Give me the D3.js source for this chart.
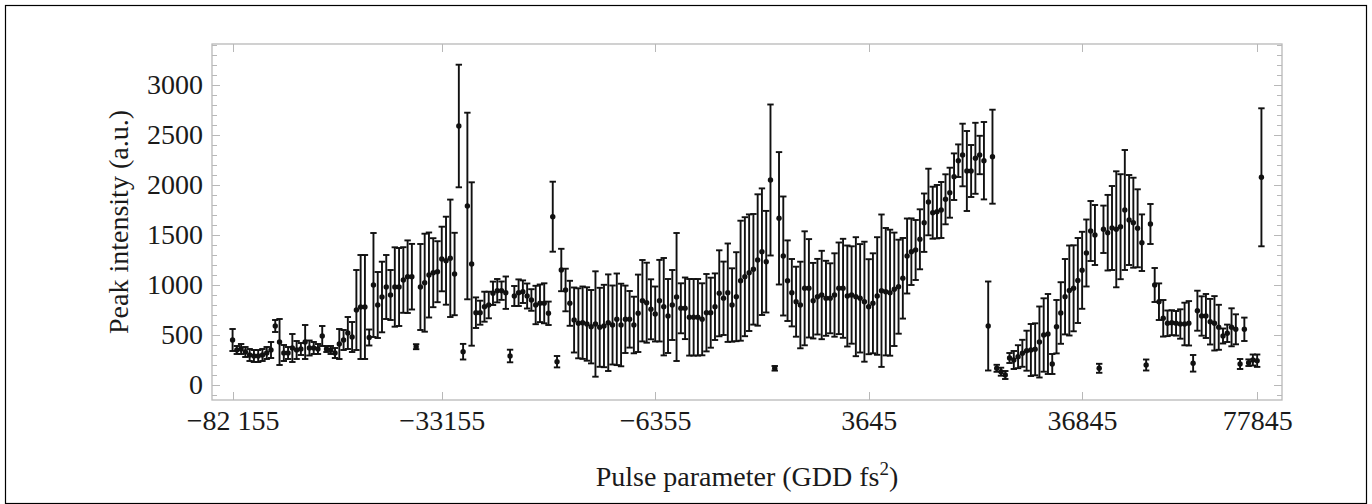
<!DOCTYPE html>
<html>
<head>
<meta charset="utf-8">
<script src="https://cdn.jsdelivr.net/npm/d3@7"></script>
<style>
  html, body { margin: 0; padding: 0; background: #fff; }
  svg { display: block; }
  text { font-family: "Liberation Serif", "Times New Roman", serif; fill: #1a1a1a; }
</style>
</head>
<body>
<svg id="chart" width="1372" height="504"></svg>
<script>
// Peak intensity per measurement (a.u.), in scan order
const intensity = [
  450, 350, 360, 330, 300, 290, 290, 300, 320, 350,
  590, 430, 320, 320, 370, 350, 360, 430, 370, 370,
  360, 490, 360, 350, 320, 410, 450, 520, 480, 750,
  780, 780, 475, 1000, 800, 880, 980, 900, 980, 980,
  1050, 1083, 1083, 383, 980, 1023, 1100, 1123, 1133, 1260,
  1243, 1267, 1110, 2590, 333, 1790, 1210, 723, 723, 783,
  800, 917, 943, 943, 923, 290, 890, 923, 933, 890,
  850, 800, 817, 817, 717, 1683, 233, 1150, 950, 817,
  650, 617, 623, 610, 583, 610, 577, 590, 623, 600,
  657, 600, 657, 657, 600, 717, 843, 823, 757, 710,
  843, 783, 690, 800, 880, 767, 767, 677, 677, 677,
  657, 723, 723, 783, 917, 867, 923, 800, 883, 1043,
  1083, 1123, 1157, 1250, 1333, 1233, 2050, 167, 1667, 1290,
  1043, 923, 833, 800, 967, 967, 843, 883, 900, 867,
  867, 900, 967, 967, 890, 900, 883, 867, 833, 783,
  817, 890, 943, 933, 923, 957, 983, 1067, 1290, 1333,
  1350, 1457, 1623, 1830, 1723, 1733, 1750, 1857, 1923, 2083,
  2243, 2300, 2140, 2140, 2267, 2300, 2243, 590, 2283, 167,
  133, 100, 270, 250, 283, 317, 343, 350, 357, 430,
  500, 510, 210, 583, 720, 883, 945, 967, 1045, 1147,
  1320, 1540, 1500, 167, 1557, 1523, 1570, 1557, 1583, 1750,
  1650, 1623, 1567, 1423, 200, 1610, 1000, 833, 667, 617,
  623, 617, 610, 610, 617, 217, 743, 690, 690, 633,
  617, 577, 490, 517, 577, 557, 210, 557, 223, 250,
  243, 2077
];

// Half-width of each error bar (a.u.)
const errorHalf = [
  110, 40, 50, 50, 60, 60, 60, 60, 60, 80,
  60, 230, 80, 60, 140, 90, 60, 170, 75, 60,
  50, 100, 30, 40, 50, 150, 100, 160, 150, 400,
  520, 520, 80, 520, 330, 353, 320, 250, 397, 390,
  328, 363, 328, 25, 430, 490, 425, 345, 305, 323,
  440, 587, 412, 613, 78, 933, 817, 153, 120, 150,
  133, 117, 117, 92, 162, 63, 100, 133, 113, 125,
  108, 192, 188, 200, 117, 350, 57, 212, 213, 225,
  325, 350, 362, 367, 367, 527, 395, 412, 483, 395,
  458, 413, 337, 283, 283, 387, 407, 400, 300, 275,
  408, 487, 370, 350, 640, 250, 308, 383, 383, 383,
  360, 387, 350, 333, 430, 367, 492, 367, 445, 600,
  595, 583, 553, 657, 633, 508, 755, 23, 662, 595,
  403, 337, 350, 433, 570, 492, 378, 378, 442, 375,
  350, 417, 458, 495, 505, 487, 595, 542, 600, 475,
  500, 588, 762, 637, 630, 567, 470, 403, 375, 333,
  300, 300, 292, 333, 260, 267, 280, 250, 250, 233,
  163, 313, 400, 260, 355, 192, 387, 445, 470, 35,
  40, 40, 50, 90, 115, 135, 200, 260, 260, 355,
  367, 400, 100, 267, 308, 377, 450, 430, 425, 385,
  335, 300, 300, 45, 237, 378, 420, 580, 525, 600,
  450, 450, 390, 283, 55, 200, 170, 183, 183, 128,
  125, 123, 147, 213, 222, 83, 200, 197, 220, 228,
  272, 225, 75, 87, 190, 150, 50, 117, 33, 55,
  62, 690
];

// Bottom-axis ticks: measurement index and the GDD value shown there
const tickIndex = [0, 49, 99, 149, 199, 240];
const tickLabel = ["\u221282 155", "\u221233155", "\u22126355", "3645", "36845", "77845"];

// Left-axis labelled ticks
const yTickValues = [0, 500, 1000, 1500, 2000, 2500, 3000];

const svg = d3.select("#chart");

// Outer border
svg.append("rect")
  .attr("x", 5.5).attr("y", 5.5)
  .attr("width", 1361).attr("height", 498)
  .attr("fill", "none").attr("stroke", "#000").attr("stroke-width", 1.2);

const plot = { left: 212, right: 1282, top: 44, bottom: 400 };

const n = intensity.length;
const pad = (n - 1) * 0.02;
const x = d3.scaleLinear().domain([-pad, n - 1 + pad]).range([plot.left, plot.right]);
const y = d3.scaleLinear().domain([-150, 3410]).range([plot.bottom, plot.top]);

const frameColor = "#b8b8b8";

// Frame
svg.append("rect")
  .attr("x", plot.left).attr("y", plot.top)
  .attr("width", plot.right - plot.left).attr("height", plot.bottom - plot.top)
  .attr("fill", "none").attr("stroke", frameColor).attr("stroke-width", 1.3);

// Y ticks on left and right (major every 500, minor every 100)
const minorY = d3.range(-100, 3401, 100);
const majorLen = 8, minorLen = 5;
const yTicks = svg.append("g").attr("stroke", frameColor).attr("stroke-width", 1);
minorY.forEach(v => {
  const len = v % 500 === 0 ? majorLen : minorLen;
  const yy = Math.round(y(v)) + 0.5;
  yTicks.append("line").attr("x1", plot.left).attr("x2", plot.left + len).attr("y1", yy).attr("y2", yy);
  yTicks.append("line").attr("x1", plot.right).attr("x2", plot.right - len).attr("y1", yy).attr("y2", yy);
});

// Y tick labels via d3 axis (tick lines hidden, frame ticks drawn above)
const yAxis = d3.axisLeft(y).tickValues(yTickValues).tickSize(0).tickPadding(9).tickFormat(d3.format("d"));
const gy = svg.append("g").attr("transform", `translate(${plot.left},0)`).call(yAxis);
gy.select(".domain").remove();
gy.selectAll("text").attr("font-size", 28).attr("font-family", "Liberation Serif").attr("fill", "#1a1a1a");

// X ticks on bottom and top
const xTicks = svg.append("g").attr("stroke", frameColor).attr("stroke-width", 1);
tickIndex.forEach(i => {
  const xx = Math.round(x(i)) + 0.5;
  xTicks.append("line").attr("x1", xx).attr("x2", xx).attr("y1", plot.bottom).attr("y2", plot.bottom - majorLen);
  xTicks.append("line").attr("x1", xx).attr("x2", xx).attr("y1", plot.top).attr("y2", plot.top + majorLen);
});
const xAxis = d3.axisBottom(x).tickValues(tickIndex).tickSize(0).tickPadding(10)
  .tickFormat((d, k) => tickLabel[k]);
const gx = svg.append("g").attr("transform", `translate(0,${plot.bottom})`).call(xAxis);
gx.select(".domain").remove();
gx.selectAll("text").attr("font-size", 28).attr("font-family", "Liberation Serif").attr("fill", "#1a1a1a");

// Error bars
const capHalf = 3.2;
const bars = svg.append("g").attr("stroke", "#111").attr("stroke-width", 1.9).attr("fill", "none");
intensity.forEach((v, i) => {
  const e = errorHalf[i];
  const cx = x(i), y1 = y(v + e), y2 = y(v - e);
  bars.append("line").attr("x1", cx).attr("x2", cx).attr("y1", y1).attr("y2", y2);
  bars.append("line").attr("x1", cx - capHalf).attr("x2", cx + capHalf).attr("y1", y1).attr("y2", y1);
  bars.append("line").attr("x1", cx - capHalf).attr("x2", cx + capHalf).attr("y1", y2).attr("y2", y2);
});

// Points
svg.append("g").selectAll("circle").data(intensity).join("circle")
  .attr("cx", (d, i) => x(i)).attr("cy", d => y(d)).attr("r", 2.7).attr("fill", "#111");

// Axis titles
svg.append("text")
  .attr("transform", `translate(122,${(plot.top + plot.bottom) / 2}) rotate(-90)`)
  .attr("text-anchor", "middle").attr("dominant-baseline", "middle")
  .attr("font-size", 28)
  .text("Peak intensity (a.u.)");

const xt = svg.append("text")
  .attr("x", (plot.left + plot.right) / 2).attr("y", 486)
  .attr("text-anchor", "middle").attr("font-size", 28);
xt.append("tspan").text("Pulse parameter (GDD fs");
xt.append("tspan").attr("font-size", 19).attr("dy", -11).text("2");
xt.append("tspan").attr("dy", 11).text(")");
</script>
</body>
</html>
